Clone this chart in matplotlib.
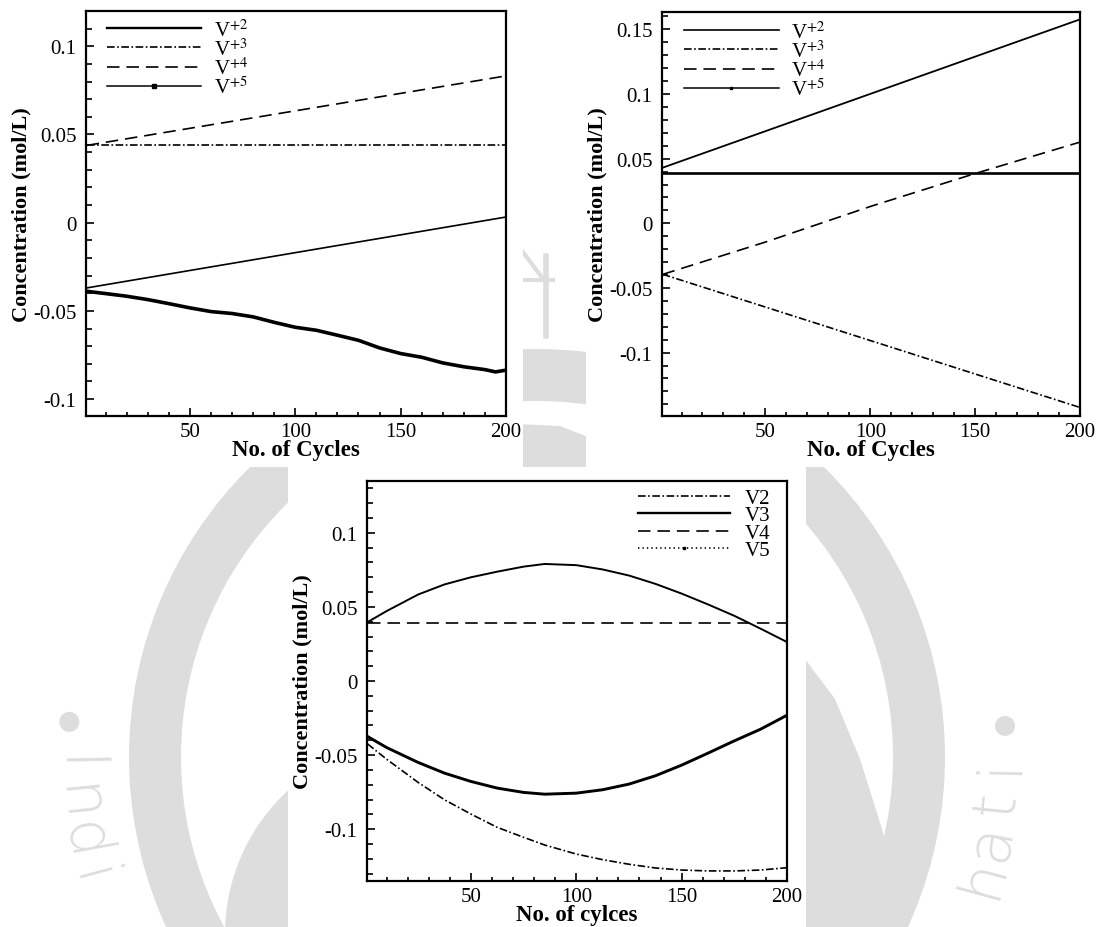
import matplotlib
matplotlib.use('Agg')
import numpy as np
import matplotlib.pyplot as plt
from matplotlib.lines import Line2D
from matplotlib.patches import Rectangle, Wedge, Circle, Polygon
from matplotlib.ticker import MultipleLocator, FuncFormatter

plt.rcParams['font.family'] = ['Liberation Serif', 'DejaVu Serif']
plt.rcParams['mathtext.fontset'] = 'stix'
plt.rcParams['axes.unicode_minus'] = False
plt.rcParams['lines.scale_dashes'] = False

W, H = 1099, 928

# ---- case (a): top left ----
cyc_a = [1, 200]
a_v2 = [-0.0370, 0.0032]
a_v3 = [0.0438, 0.0438]
a_v4 = [0.0438, 0.0832]
cyc_a5 = [1, 10, 20, 30, 40, 50, 60, 70, 80, 90, 100, 110, 120, 130, 140,
          150, 160, 170, 180, 190, 195, 200]
a_v5 = [-0.0389, -0.0402, -0.0417, -0.0436, -0.0459, -0.0483, -0.0504,
        -0.0515, -0.0534, -0.0565, -0.0593, -0.0610, -0.0638, -0.0667,
        -0.0710, -0.0742, -0.0763, -0.0795, -0.0817, -0.0833, -0.0846, -0.0836]

# ---- case (b): top right ----
cyc_b = [1, 200]
b_v2 = [0.0430, 0.1577]
b_v3 = [-0.0394, -0.1424]
b_v5 = [0.0389, 0.0389]
cyc_b4 = [1, 50, 100, 150, 200]
b_v4 = [-0.0395, -0.0145, 0.0130, 0.0385, 0.0628]

# ---- case (c): bottom ----
cyc_c = [1, 10, 25, 37.5, 50, 62.5, 75, 85, 100, 112.5, 125, 137.5, 150,
         162.5, 175, 187.5, 200]
c_v2 = [-0.0425, -0.0528, -0.0685, -0.0802, -0.0898, -0.0988, -0.1055,
        -0.1107, -0.1168, -0.1206, -0.1237, -0.1262, -0.1276, -0.1282,
        -0.1282, -0.1276, -0.1260]
c_v3 = [0.0398, 0.0472, 0.0584, 0.0652, 0.0700, 0.0738, 0.0772, 0.0790,
        0.0782, 0.0753, 0.0712, 0.0656, 0.0590, 0.0517, 0.0440, 0.0353, 0.0263]
c_v4_cyc = [1, 200]
c_v4 = [0.0393, 0.0393]
c_v5 = [-0.0375, -0.0449, -0.0550, -0.0622, -0.0678, -0.0723, -0.0752,
        -0.0764, -0.0757, -0.0734, -0.0696, -0.0640, -0.0568, -0.0487,
        -0.0404, -0.0325, -0.0231]

labels_sup = [r'V$^{+2}$', r'V$^{+3}$', r'V$^{+4}$', r'V$^{+5}$']
labels_plain = ['V2', 'V3', 'V4', 'V5']

DASH = (0, (9, 5))
DASHDOT = (0, (5.5, 1.8, 1.2, 1.8))

fig = plt.figure(figsize=(W / 100, H / 100), dpi=100)

# background page with the faint institute seal
bg = fig.add_axes([0, 0, 1, 1], zorder=-1)
bg.set_xlim(0, W)
bg.set_ylim(H, 0)
bg.axis('off')
grey = '#dddddd'
cx, cy = 537, 758
bg.add_patch(Wedge((cx, cy), 408, 0, 360, width=52, color=grey, lw=0))
bg.add_patch(Circle((420, 935), 195, color=grey, lw=0))
bg.add_patch(Polygon([(790, 640), (835, 700), (860, 760), (882, 830),
                      (900, 900), (905, 928), (790, 928)], color=grey, lw=0))
bg.add_patch(Polygon([(518, 425), (560, 427), (593, 440), (593, 470), (518, 470)],
                     color=grey, lw=0))
bg.plot([546, 546], [257, 337], color=grey, lw=4)
bg.plot([523, 553], [281, 281], color=grey, lw=3)
bg.plot([523, 543], [253, 280], color=grey, lw=3)
for ang in (175.7, 3.8):
    t = np.radians(ang)
    bg.add_patch(Circle((cx + 469 * np.cos(t), cy - 469 * np.sin(t)), 10,
                        color=grey, lw=0))

panels = [(0, 0, 523, 468), (586, 0, 513, 468), (288, 468, 518, 460)]


def hidden(x, y):
    if x < 30 or x > W - 30 or y > H - 32:
        return True
    return any(x0 - 20 < x < x0 + w + 20 and y0 - 20 < y < y0 + h + 20
               for x0, y0, w, h in panels)


seal_text = 'Indian Institute of Technology Guwahati'
for i, ch in enumerate(seal_text):
    ang = 181 + i * (359 - 181) / (len(seal_text) - 1)
    t = np.radians(ang)
    x, y = cx + 462 * np.cos(t), cy - 462 * np.sin(t)
    if ch == ' ' or hidden(x, y):
        continue
    bg.text(x, y, ch, rotation=ang + 90, rotation_mode='anchor', ha='center',
            va='center', fontsize=44, color=grey, family='DejaVu Sans',
            fontweight='light')

# white panels behind each plot
for x0, y0, w, h in panels:
    bg.add_patch(Rectangle((x0, y0), w, h, color='white', lw=0, zorder=5))


def fmt(v, pos):
    v = round(v, 4) + 0.0
    return '%g' % v


def style_axes(ax, ylim, xlabel):
    ax.set_xlim(0.7, 200)
    ax.set_ylim(*ylim)
    ax.xaxis.set_major_locator(MultipleLocator(50))
    ax.xaxis.set_minor_locator(MultipleLocator(10))
    ax.yaxis.set_major_locator(MultipleLocator(0.05))
    ax.yaxis.set_minor_locator(MultipleLocator(0.01))
    ax.yaxis.set_major_formatter(FuncFormatter(fmt))
    ax.xaxis.set_major_formatter(FuncFormatter(fmt))
    ax.tick_params(which='both', direction='in', top=False, right=False,
                   labelsize=15, width=1.2)
    ax.tick_params(axis='y', which='major', length=6, pad=7)
    ax.tick_params(axis='y', which='minor', length=4.5)
    ax.tick_params(axis='x', which='major', length=6, pad=4)
    ax.tick_params(axis='x', which='minor', length=3)
    for s in ax.spines.values():
        s.set_linewidth(1.6)
    ax.set_xlabel(xlabel, fontsize=16.5, fontweight='bold', labelpad=-1)
    ax.set_ylabel('Concentration (mol/L)', fontsize=16, fontweight='bold',
                  labelpad=1)


def frac(left, top, right, bottom):
    return [left / W, 1 - bottom / H, (right - left) / W, (bottom - top) / H]


# ---- top left ----
ax1 = fig.add_axes(frac(86, 12, 506, 417))
ax1.plot(cyc_a, a_v2, color='k', lw=1.2)
ax1.plot(cyc_a, a_v3, color='k', lw=1.2, linestyle=DASHDOT)
ax1.plot(cyc_a, a_v4, color='k', lw=1.2, linestyle=DASH)
ax1.plot(cyc_a5, a_v5, color='k', lw=2.6)
style_axes(ax1, (-0.1096, 0.12), 'No. of Cycles')
h1 = [Line2D([], [], color='k', lw=1.7),
      Line2D([], [], color='k', lw=1.2, linestyle=DASHDOT),
      Line2D([], [], color='k', lw=1.2, linestyle=DASH),
      Line2D([], [], color='k', lw=1.1, marker='s', ms=2.5)]
ax1.legend(h1, labels_sup, loc='upper left', bbox_to_anchor=(0.045, 0.985),
           frameon=False, fontsize=15, numpoints=1, handlelength=4.5,
           handletextpad=0.62, labelspacing=-0.11, borderpad=0.1,
           borderaxespad=0)

# ---- top right ----
ax2 = fig.add_axes(frac(662, 13, 1080, 417))
ax2.plot(cyc_b, b_v2, color='k', lw=1.3)
ax2.plot(cyc_b, b_v3, color='k', lw=1.2, linestyle=DASHDOT)
ax2.plot(cyc_b4, b_v4, color='k', lw=1.2, linestyle=DASH)
ax2.plot(cyc_b, b_v5, color='k', lw=1.9)
style_axes(ax2, (-0.149, 0.1634), 'No. of Cycles')
h2 = [Line2D([], [], color='k', lw=1.2),
      Line2D([], [], color='k', lw=1.2, linestyle=DASHDOT),
      Line2D([], [], color='k', lw=1.2, linestyle=DASH),
      Line2D([], [], color='k', lw=1.1, marker='s', ms=1.5)]
ax2.legend(h2, labels_sup, loc='upper left', bbox_to_anchor=(0.047, 0.983),
           frameon=False, fontsize=15, numpoints=1, handlelength=4.55,
           handletextpad=0.62, labelspacing=-0.11, borderpad=0.1,
           borderaxespad=0)

# ---- bottom ----
ax3 = fig.add_axes(frac(367, 482, 787, 882))
ax3.plot(cyc_c, c_v2, color='k', lw=1.2, linestyle=DASHDOT)
ax3.plot(cyc_c, c_v3, color='k', lw=1.4)
ax3.plot(c_v4_cyc, c_v4, color='k', lw=1.2, linestyle=DASH)
ax3.plot(cyc_c, c_v5, color='k', lw=2.1)
style_axes(ax3, (-0.135, 0.135), 'No. of cylces')
h3 = [Line2D([], [], color='k', lw=1.2, linestyle=DASHDOT),
      Line2D([], [], color='k', lw=1.7),
      Line2D([], [], color='k', lw=1.2, linestyle=DASH),
      Line2D([], [], color='k', lw=1.2, linestyle=(0, (1, 2.2)),
             marker='s', ms=1.5)]
ax3.legend(h3, labels_plain, loc='upper right', bbox_to_anchor=(0.965, 0.987),
           frameon=False, fontsize=15, numpoints=1, handlelength=4.4,
           handletextpad=0.7, labelspacing=-0.1, borderpad=0.1,
           borderaxespad=0)

fig.savefig('out.png', dpi=100, facecolor='white')
